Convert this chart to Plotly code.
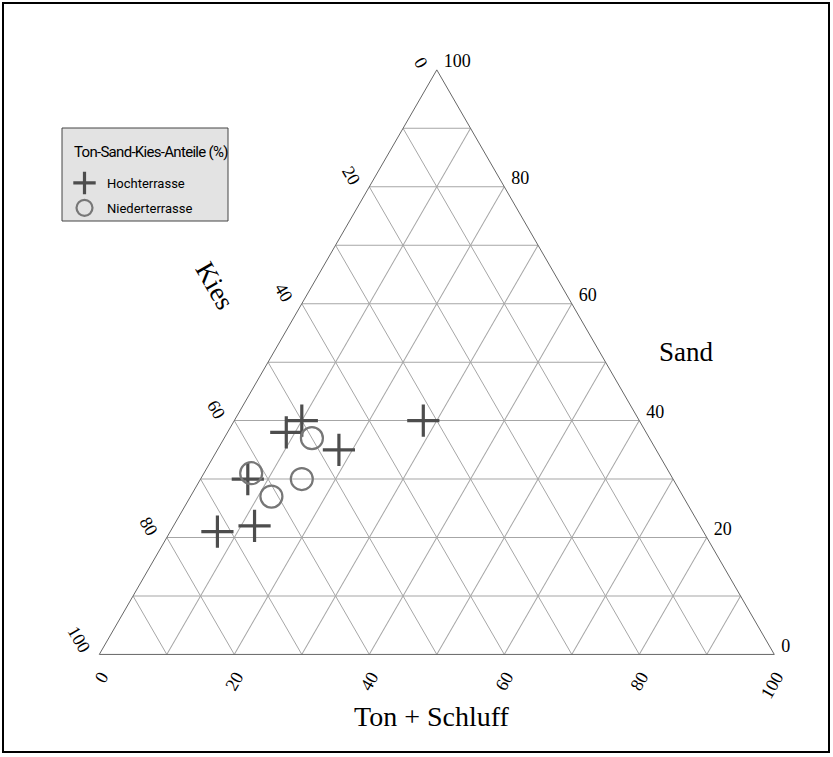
import plotly.graph_objects as go

# Data: Ton + Schluff, Sand, Kies (%)
hoch_ton = [28, 10, 8.7, 18, 7, 12, 7]
hoch_sand = [40, 40, 38, 35, 30, 22, 21]
hoch_kies = [32, 50, 53.3, 47, 63, 66, 72]

nieder_ton = [13, 7, 15, 12]
nieder_sand = [37, 31, 30, 27]
nieder_kies = [50, 62, 55, 61]

tick_vals = list(range(0, 101, 10))
tick_text = [str(100 - v) if v % 20 == 0 else "" for v in tick_vals]

W, H = 833, 757
serif = "Liberation Serif, Times New Roman, serif"
sans = "Roboto, Liberation Sans, sans-serif"


def px(x):
    return x / W


def py(y):
    return 1 - y / H


fig = go.Figure()
fig.add_trace(go.Scatterternary(
    a=hoch_sand, b=hoch_kies, c=hoch_ton, mode="markers", name="Hochterrasse",
    legendgroup="h",
    marker=dict(symbol="cross-thin", size=23, color="#4d4d4d",
                line=dict(color="#4d4d4d", width=3.2)),
))
fig.add_trace(go.Scatterternary(
    a=nieder_sand, b=nieder_kies, c=nieder_ton, mode="markers", name="Niederterrasse",
    legendgroup="n",
    marker=dict(symbol="circle-open", size=22, color="#777777",
                line=dict(color="#777777", width=2.2)),
))

axis_common = dict(
    tickmode="array", tickvals=tick_vals, ticktext=tick_text,
    showgrid=True, gridcolor="#a6a6a6", gridwidth=1,
    showline=True, linecolor="#666666", linewidth=1,
    ticks="outside", ticklen=8, tickcolor="rgba(0,0,0,0)",
    tickfont=dict(family=serif, size=18, color="black"),
    title=dict(text=""), min=0,
)

x_lo, x_hi = 99.3 / W, 774.3 / W
yc = 1 - 362.15 / H
fig.update_layout(
    width=W, height=H,
    margin=dict(l=0, r=0, t=0, b=0),
    paper_bgcolor="white",
    ternary=dict(
        sum=100,
        domain=dict(x=[x_lo, x_hi], y=[yc - 0.395, yc + 0.395]),
        bgcolor="white",
        aaxis=dict(axis_common, tickangle=60),
        baxis=dict(axis_common, tickangle=-60, ticklen=4),
        caxis=dict(axis_common, tickangle=0),
    ),
    legend=dict(
        x=px(62), y=py(168), xanchor="left", yanchor="top",
        bgcolor="rgba(0,0,0,0)", borderwidth=0,
        font=dict(family=sans, size=13, color="black"),
        itemwidth=35, traceorder="grouped", tracegroupgap=5,
    ),
    showlegend=True,
    annotations=[
        dict(text="<span style='letter-spacing:-0.7px'>Ton-Sand-Kies-Anteile (%)</span>",
             x=px(72), y=py(152), xref="paper", yref="paper",
             xanchor="left", yanchor="middle", showarrow=False,
             font=dict(family=sans, size=15, color="black")),
        dict(text="Kies", x=px(215), y=py(286), xref="paper", yref="paper",
             xanchor="center", yanchor="middle",
             showarrow=False, textangle=60, font=dict(family=serif, size=27, color="black")),
        dict(text="Sand", x=px(686), y=py(352), xref="paper", yref="paper",
             xanchor="center", yanchor="middle",
             showarrow=False, font=dict(family=serif, size=27, color="black")),
        dict(text="Ton + Schluff", x=px(432), y=py(716), xref="paper", yref="paper",
             xanchor="center", yanchor="middle",
             showarrow=False, font=dict(family=serif, size=28, color="black")),
    ],
    shapes=[
        dict(type="rect", xref="paper", yref="paper", layer="below",
             x0=px(62), x1=px(228), y0=py(221), y1=py(128),
             fillcolor="#e3e3e3", line=dict(color="#444444", width=1)),
        dict(type="rect", xref="paper", yref="paper",
             x0=px(3), x1=px(829), y0=py(752), y1=py(3),
             line=dict(color="black", width=2)),
    ],
)

fig.write_html("out.html", config={"displayModeBar": False},
               post_script="document.body.style.margin='0px';")
